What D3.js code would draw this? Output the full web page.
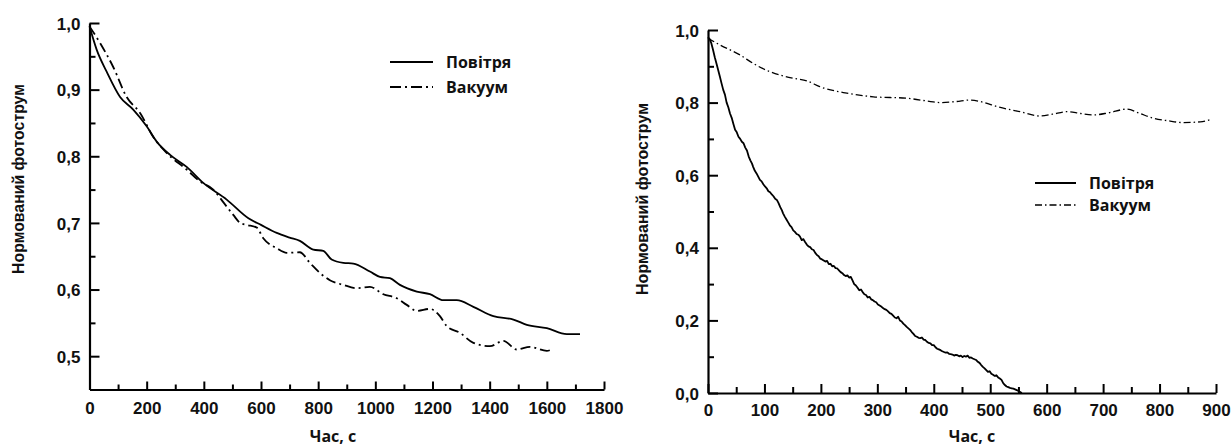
<!DOCTYPE html>
<html><head><meta charset="utf-8">
<script src="https://cdn.jsdelivr.net/npm/d3@7"></script>
<style>
html,body{margin:0;padding:0;background:#fff;}
svg{display:block;}
.tick text{font-family:"Liberation Sans",Arial,sans-serif;font-weight:bold;font-size:17px;fill:#111;}
</style></head>
<body>
<svg id="c" width="1232" height="448"></svg>
<script>
// ---------- data ----------
const seriesNames = ["Повітря", "Вакуум"];
const yTitle = "Нормований фотострум";
const xTitle = "Час, с";

// Left chart
const leftAirT = [0,25,60,107,153,200,235,282,340,398,480,556,600,655,700,736,783,818,847,888,923,981,1016,1051,1086,1145,1191,1238,1285,1343,1413,1483,1530,1600,1670,1716];
const leftAirV = [0.995,0.960,0.927,0.889,0.870,0.845,0.822,0.802,0.784,0.760,0.735,0.707,0.697,0.685,0.678,0.673,0.660,0.658,0.645,0.640,0.639,0.627,0.619,0.617,0.607,0.597,0.593,0.584,0.584,0.574,0.560,0.555,0.547,0.542,0.533,0.533];
const leftVacT = [0,37,83,130,177,223,270,340,387,433,470,503,527,550,585,608,655,690,736,771,806,841,888,935,981,1028,1075,1110,1145,1191,1226,1250,1296,1343,1401,1448,1495,1541,1600,1611];
const leftVacV = [0.995,0.970,0.934,0.889,0.865,0.829,0.805,0.780,0.762,0.750,0.730,0.712,0.700,0.697,0.693,0.677,0.662,0.655,0.656,0.640,0.625,0.614,0.607,0.602,0.604,0.593,0.587,0.577,0.568,0.571,0.560,0.545,0.535,0.520,0.515,0.523,0.510,0.514,0.508,0.509];
const leftXTicks = [0,200,400,600,800,1000,1200,1400,1600,1800];
const leftYTicks = [0.5,0.6,0.7,0.8,0.9,1.0];

// Right chart
const rightAirT = [0,3,6,9,12,15,18,21,24,27,30,33,36,39,42,45,48,51,54,57,60,63,66,69,72,75,78,80,83,86,89,92,95,98,101,104,107,110,113,116,119,122,125,128,131,133,136,139,142,145,148,151,154,157,160,163,166,169,172,175,178,181,184,187,190,193,196,199,202,205,208,211,214,217,220,223,226,229,232,235,238,241,244,247,250,253,256,259,262,265,268,271,274,277,280,283,286,289,292,295,298,301,304,307,310,313,316,319,322,325,328,331,334,337,340,343,346,349,352,355,358,361,364,367,370,373,376,379,382,385,388,391,394,397,400,403,406,409,412,415,418,421,424,427,430,433,436,439,442,445,448,451,454,457,460,463,466,469,472,475,478,481,484,487,490,493,496,499,502,505,508,511,514,517,520,523,526,529,532,535,538,541,544,547,550,553,556];
const rightAirV = [0.980,0.975,0.963,0.945,0.925,0.908,0.890,0.872,0.853,0.835,0.822,0.800,0.787,0.770,0.758,0.741,0.725,0.718,0.706,0.700,0.692,0.688,0.676,0.668,0.652,0.641,0.632,0.623,0.612,0.605,0.596,0.587,0.583,0.575,0.569,0.564,0.556,0.553,0.547,0.542,0.535,0.532,0.523,0.512,0.503,0.495,0.486,0.478,0.470,0.462,0.457,0.448,0.444,0.438,0.436,0.431,0.421,0.424,0.416,0.409,0.404,0.402,0.396,0.394,0.386,0.380,0.377,0.370,0.368,0.365,0.362,0.364,0.355,0.356,0.349,0.350,0.344,0.343,0.338,0.333,0.330,0.325,0.322,0.324,0.318,0.320,0.310,0.300,0.296,0.290,0.283,0.285,0.278,0.272,0.270,0.263,0.265,0.258,0.256,0.252,0.250,0.244,0.241,0.238,0.234,0.231,0.229,0.225,0.220,0.218,0.213,0.208,0.206,0.210,0.200,0.197,0.191,0.187,0.182,0.178,0.174,0.168,0.163,0.157,0.155,0.152,0.151,0.153,0.147,0.146,0.141,0.138,0.137,0.132,0.132,0.126,0.122,0.120,0.118,0.115,0.113,0.111,0.112,0.108,0.107,0.106,0.103,0.105,0.104,0.101,0.103,0.099,0.102,0.100,0.103,0.097,0.098,0.095,0.093,0.091,0.086,0.083,0.077,0.072,0.068,0.063,0.058,0.060,0.053,0.050,0.047,0.049,0.043,0.040,0.036,0.027,0.022,0.018,0.016,0.014,0.013,0.012,0.010,0.008,0.006,0.003,0.000];
const rightVacT = [0,21,57,80,110,151,175,198,246,293,352,399,411,440,464,490,512,553,588,610,636,660,683,710,742,765,789,815,842,872,892];
const rightVacV = [0.977,0.959,0.931,0.908,0.885,0.867,0.860,0.844,0.826,0.816,0.812,0.802,0.800,0.803,0.807,0.800,0.789,0.775,0.763,0.768,0.775,0.770,0.766,0.772,0.782,0.770,0.757,0.750,0.745,0.747,0.754];
const rightXTicks = [0,100,200,300,400,500,600,700,800,900];
const rightYTicks = [0.0,0.2,0.4,0.6,0.8,1.0];

// ---------- drawing ----------
const svg = d3.select("#c");
const fmt = d => d.toFixed(1).replace(".", ",");
const zip = (t, v) => t.map((x, i) => [x, v[i]]);

function panel(o) {
  const x = d3.scaleLinear().domain(o.xDom).range(o.xRange);
  const y = d3.scaleLinear().domain(o.yDom).range(o.yRange);
  const g = svg.append("g");

  // minor ticks
  const gxMinor = g.append("g").attr("transform", `translate(0,${o.yRange[0]})`)
    .call(d3.axisBottom(x).tickValues(o.xMinor).tickSize(-o.minorX).tickSizeOuter(0).tickFormat(""));
  const gyMinor = g.append("g").attr("transform", `translate(${o.xRange[0]},0)`)
    .call(d3.axisLeft(y).tickValues(o.yMinor).tickSize(-6).tickSizeOuter(0).tickFormat(""));
  [gxMinor, gyMinor].forEach(a => { a.select(".domain").remove(); a.selectAll("line").attr("stroke", "#000").attr("stroke-width", 2); });

  const gx = g.append("g").attr("transform", `translate(0,${o.yRange[0]})`)
    .call(d3.axisBottom(x).tickValues(o.xTicks).tickSize(-o.majorX).tickSizeOuter(0).tickPadding(o.xPad).tickFormat(d3.format("d")));
  const gy = g.append("g").attr("transform", `translate(${o.xRange[0]},0)`)
    .call(d3.axisLeft(y).tickValues(o.yTicks).tickSize(-10).tickSizeOuter(0).tickPadding(9).tickFormat(fmt));
  [gx, gy].forEach(a => {
    a.select(".domain").attr("stroke", "#000").attr("stroke-width", 2.2);
    a.selectAll("line").attr("stroke", "#000").attr("stroke-width", 2);
  });
  gy.selectAll("text").attr("dy", "0.36em");

  // lines
  o.series.forEach(s => {
    g.append("path").datum(s.data)
      .attr("fill", "none").attr("stroke", "#000")
      .attr("stroke-width", s.w).attr("stroke-dasharray", s.dash || null)
      .attr("stroke-linejoin", "round")
      .attr("d", d3.line().x(d => x(d[0])).y(d => y(d[1])).curve(s.curve || d3.curveLinear));
  });

  // axis titles
  const yt = g.append("text").attr("transform", `translate(${o.yTitleX},${o.yTitleY}) rotate(-90)`)
    .attr("text-anchor", "middle").attr("dominant-baseline", "central")
    .style("font-family", "'Liberation Sans', Arial, sans-serif").style("font-weight", "bold").style("font-size", "15px")
    .attr("fill", "#111").text(yTitle);
  const len = yt.node().getComputedTextLength();
  if (len > 0) yt.style("font-size", (15 * o.yTitleLen / len).toFixed(2) + "px");
  g.append("text").attr("x", o.xTitleX).attr("y", o.xTitleY)
    .attr("text-anchor", "middle").attr("dominant-baseline", "central")
    .style("font-family", "'Open Sans', sans-serif").style("font-weight", "bold").style("font-size", "16px")
    .attr("fill", "#111").text(xTitle);

  // legend
  o.series.forEach((s, i) => {
    const ly = o.legY[i];
    g.append("line").attr("x1", o.legX[0]).attr("x2", o.legX[1]).attr("y1", ly).attr("y2", ly)
      .attr("stroke", "#000").attr("stroke-width", s.w + 0.3).attr("stroke-dasharray", s.legDash || null);
    g.append("text").attr("x", o.legX[2]).attr("y", ly).attr("dominant-baseline", "central")
      .style("font-family", "'Open Sans', sans-serif").style("font-weight", "bold").style("font-size", "16px")
      .attr("fill", "#111").text(seriesNames[i]);
  });
}

panel({
  xDom: [0, 1800], xRange: [89.5, 604], yDom: [0.45, 1.0], yRange: [389.5, 23],
  xTicks: leftXTicks, yTicks: leftYTicks,
  xMinor: d3.range(100, 1800, 200), yMinor: d3.range(0.55, 1.0, 0.1),
  majorX: 8, minorX: 5, xPad: 12,
  series: [
    { data: zip(leftAirT, leftAirV), w: 1.8, curve: d3.curveMonotoneX },
    { data: zip(leftVacT, leftVacV), w: 1.8, dash: "10,4,2,4", legDash: "11,4,2,4", curve: d3.curveMonotoneX }
  ],
  yTitleX: 18, yTitleY: 179, yTitleLen: 190, xTitleX: 333, xTitleY: 436,
  legX: [390, 433, 446], legY: [62, 87]
});

panel({
  xDom: [0, 900], xRange: [708, 1216], yDom: [0, 1], yRange: [393, 30],
  xTicks: rightXTicks, yTicks: rightYTicks,
  xMinor: d3.range(50, 900, 100), yMinor: d3.range(0.1, 1.0, 0.2),
  majorX: 9, minorX: 6, xPad: 11,
  series: [
    { data: zip(rightAirT, rightAirV), w: 1.8 },
    { data: zip(rightVacT, rightVacV), w: 1.3, dash: "7,3,1.5,3", legDash: "7,3,1.5,3", curve: d3.curveMonotoneX }
  ],
  yTitleX: 642, yTitleY: 199, yTitleLen: 192, xTitleX: 972, xTitleY: 436,
  legX: [1035, 1076, 1089], legY: [183, 205]
});
</script>
</body></html>
